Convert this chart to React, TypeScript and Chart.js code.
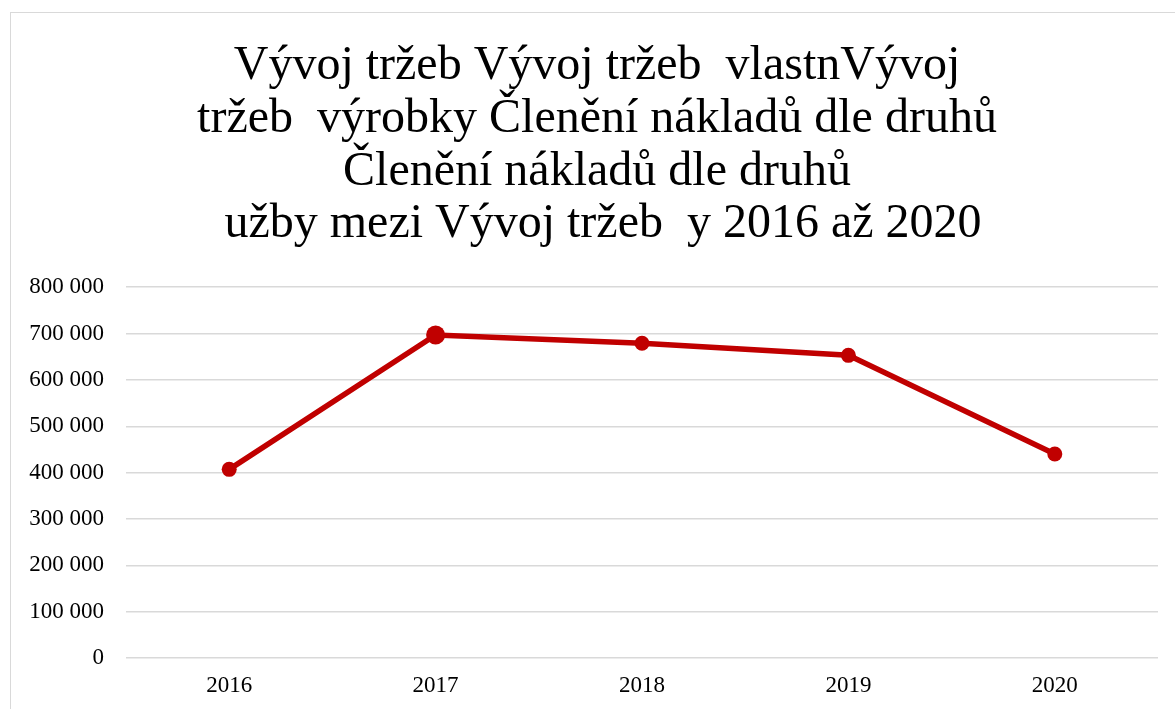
import React, { useEffect, useRef } from "react";
import { Chart, registerables } from "chart.js";

Chart.register(...registerables);

const categories = ["2016", "2017", "2018", "2019", "2020"];
const revenue = [407000, 697000, 679000, 653000, 440000];
const pointSizes = [7.5, 9.5, 7.5, 7.5, 7.5];
const titleLines = [
  "Vývoj tržeb Vývoj tržeb  vlastnVývoj",
  "tržeb  výrobky Členění nákladů dle druhů",
  "Členění nákladů dle druhů",
  " užby mezi Vývoj tržeb  y 2016 až 2020",
];
const yTicks = [0, 100000, 200000, 300000, 400000, 500000, 600000, 700000, 800000];

const RED = "#C00000";
const GRID = "#d9d9d9";
const FONT = "'Liberation Serif', 'Times New Roman', serif";

function fmt(v: number) {
  return String(v).replace(/\B(?=(\d{3})+(?!\d))/g, " ");
}

const shiftTitle = {
  id: "shiftTitle",
  afterLayout(chart: any) {
    const t = chart.titleBlock;
    if (t) {
      t.left += 36;
    }
  },
};

export default function App() {
  const ref = useRef<HTMLCanvasElement | null>(null);
  useEffect(() => {
    if (!ref.current) return;
    const chart = new Chart(ref.current, {
      type: "line",
      data: {
        labels: categories,
        datasets: [
          {
            data: revenue,
            borderColor: RED,
            backgroundColor: RED,
            borderWidth: 5.5,
            pointRadius: pointSizes,
            pointBackgroundColor: RED,
            pointBorderColor: RED,
            pointBorderWidth: 0,
            tension: 0,
          },
        ],
      },
      plugins: [shiftTitle],
      options: {
        responsive: false,
        animation: false,
        layout: { padding: { top: 0, right: 17, bottom: 0, left: 0 } },
        plugins: {
          legend: { display: false },
          tooltip: { enabled: false },
          title: {
            display: true,
            text: titleLines,
            color: "#000",
            font: { family: FONT, size: 48, weight: "normal", lineHeight: 1.1 },
            padding: { top: 40, bottom: 36 },
          },
        },
        scales: {
          x: {
            offset: true,
            grid: { display: false, drawTicks: false },
            border: { display: false },
            ticks: { color: "#000", font: { family: FONT, size: 23 }, padding: 14 },
            afterFit: (s: any) => {
              s.height = 51;
            },
          },
          y: {
            min: 0,
            max: 800000,
            afterBuildTicks: (s: any) => {
              s.ticks = yTicks.map((v) => ({ value: v }));
            },
            grid: { color: GRID, lineWidth: 1.5, drawTicks: false },
            border: { display: false },
            ticks: {
              color: "#000",
              font: { family: FONT, size: 23 },
              padding: 22,
              callback: (v: any) => fmt(Number(v)),
            },
            afterFit: (s: any) => {
              s.width = 126;
            },
          },
        },
      },
    });
    return () => chart.destroy();
  }, []);

  return (
    <div style={{ position: "fixed", left: 0, top: 0, width: 1175, height: 709, background: "#fff", overflow: "hidden" }}>
      <div
        style={{
          position: "absolute",
          left: 10,
          top: 12,
          width: 1200,
          height: 760,
          border: "1.5px solid #d9d9d9",
          boxSizing: "border-box",
        }}
      />
      <canvas ref={ref} width={1175} height={709} style={{ position: "absolute", left: 0, top: 0 }} />
    </div>
  );
}
